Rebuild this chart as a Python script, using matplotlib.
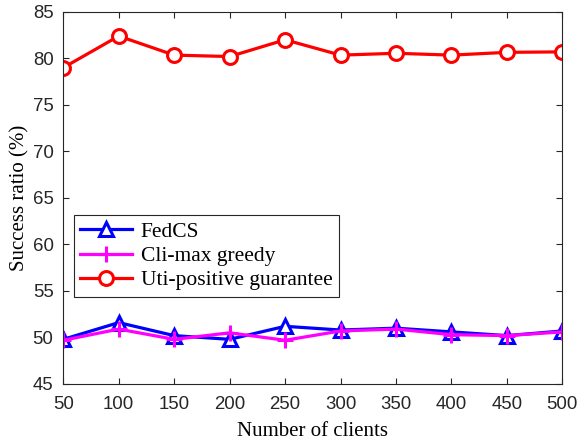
import matplotlib
matplotlib.use("Agg")
from matplotlib import pyplot as plt
import numpy as np

clients = [50, 100, 150, 200, 250, 300, 350, 400, 450, 500]
fedcs = [49.8, 51.6, 50.2, 49.8, 51.2, 50.8, 51.0, 50.6, 50.2, 50.7]
climax = [49.7, 50.9, 49.8, 50.5, 49.7, 50.7, 50.9, 50.3, 50.2, 50.6]
utipos = [79.0, 82.4, 80.35, 80.2, 82.0, 80.35, 80.55, 80.35, 80.65, 80.7]

serif = ["Liberation Serif", "DejaVu Serif"]
plt.rcParams["font.family"] = ["Liberation Sans", "DejaVu Sans"]

fig = plt.figure(figsize=(5.79, 4.43), dpi=100)
ax = fig.add_axes([0.1093, 0.1332, 0.862, 0.840])

ax.plot(clients, fedcs, color="blue", lw=2.3, marker="^", ms=10,
        mfc="white", mec="blue", mew=2.2, label="FedCS")
ax.plot(clients, climax, color="magenta", lw=2.3, marker="+", ms=12,
        mew=2.2, label="Cli-max greedy")
ax.plot(clients, utipos, color="red", lw=2.3, marker="o", ms=10,
        mfc="white", mec="red", mew=2.2, label="Uti-positive guarantee")

ax.set_xlim(50, 500)
ax.set_ylim(45, 85)
ax.set_xticks(np.arange(50, 501, 50))
ax.set_yticks(np.arange(45, 86, 5))
ax.tick_params(direction="in", top=True, right=True, labelsize=13.4,
               length=4, color="#262626", labelcolor="#262626")
ax.tick_params(axis="x", pad=9)
ax.tick_params(axis="y", pad=7)
for s in ax.spines.values():
    s.set_color("#262626")
    s.set_linewidth(0.8)

ax.set_xlabel("Number of clients", fontsize=15, family=serif, labelpad=6)
ax.set_ylabel("Success ratio (%)", fontsize=15, family=serif, labelpad=2)

leg = ax.legend(loc="lower left", bbox_to_anchor=(0.021, 0.234),
                prop={"family": serif, "size": 15.5},
                fancybox=False, edgecolor="#262626", framealpha=1,
                handlelength=2.4, borderpad=0.3, labelspacing=0.2,
                handletextpad=0.4, borderaxespad=0)
leg.get_frame().set_linewidth(0.8)

fig.savefig("out.png", dpi=100)
